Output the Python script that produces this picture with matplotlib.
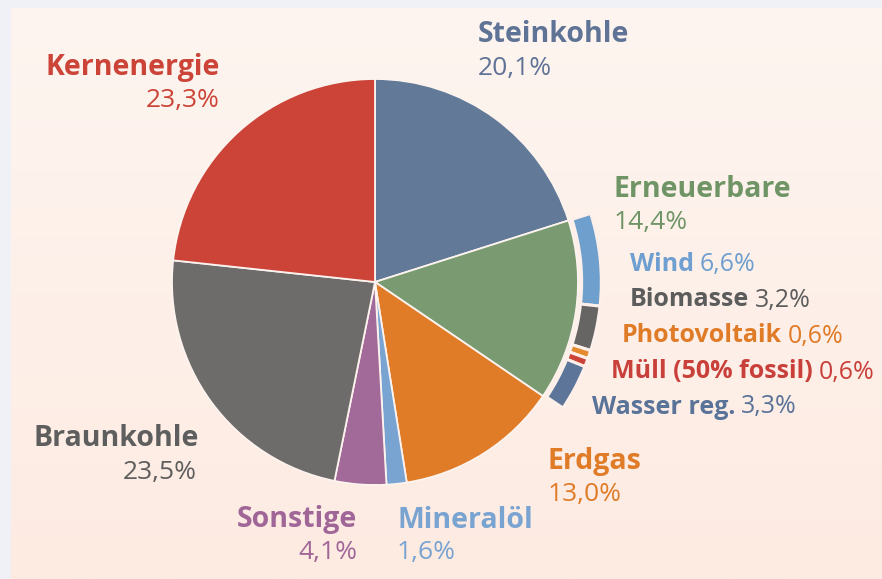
import matplotlib
matplotlib.use("Agg")
import matplotlib.pyplot as plt
import numpy as np

# Anteile an der Stromerzeugung (%), im Uhrzeigersinn ab 12 Uhr
kategorien = ['Steinkohle', 'Erneuerbare', 'Erdgas', 'Mineralöl', 'Sonstige', 'Braunkohle', 'Kernenergie']
anteile = [20.1, 14.4, 13.0, 1.6, 4.1, 23.5, 23.3]
farben = ['#627a98', '#7a9a72', '#e07b28', '#79a3d0', '#a26a98', '#6e6c6a', '#cc4438']
textfarben = ['#5f7396', '#6f9566', '#e07b28', '#79a3d0', '#a06697', '#5e5e5e', '#cc4438']
werte_txt = ['20,1%', '14,4%', '13,0%', '1,6%', '4,1%', '23,5%', '23,3%']

# Aufteilung der Erneuerbaren (äußerer Ring)
ern_namen = ['Wind', 'Biomasse', 'Photovoltaik', 'Müll (50% fossil)', 'Wasser reg.']
ern_anteile = [6.6, 3.2, 0.6, 0.6, 3.3]
ern_farben = ['#6f9fcc', '#666564', '#e68a2e', '#cc4438', '#5d7599']
ern_werte_txt = ['6,6%', '3,2%', '0,6%', '0,6%', '3,3%']

W, H = 882, 579
bg_oben = np.array([254, 245, 240]) / 255
bg_unten = np.array([253, 235, 226]) / 255

fig = plt.figure(figsize=(W / 100, H / 100), dpi=100)
fig.patch.set_facecolor('#eff1f6')

# Hintergrund-Panel mit leichtem Verlauf
bg = fig.add_axes([11 / W, 0, 1 - 11 / W, 1 - 8 / H])
grad = np.linspace(0, 1, 256)[:, None, None]
bild = bg_oben * (1 - grad) + bg_unten * grad
bg.imshow(bild, aspect='auto', extent=[0, 1, 0, 1])
bg.axis('off')

# Kreisdiagramm: Mittelpunkt (375, 282) px, Radius 203 px
cx, cy, r = 375, 282, 203
ax = fig.add_axes([0, 0, 1, 1])
ax.patch.set_alpha(0)

ax.pie(anteile, colors=farben, startangle=90, counterclock=False, radius=1.0,
       wedgeprops=dict(edgecolor='#fdf3ee', linewidth=1.3))

start_ern = 90 - 360 * anteile[0] / 100
ring_werte = ern_anteile + [100 - sum(ern_anteile)]
ring_farben = ern_farben + ['none']
keile, _ = ax.pie(ring_werte, colors=ring_farben, startangle=start_ern, counterclock=False,
                  radius=1.115, wedgeprops=dict(width=0.097, edgecolor='#fdf0ea', linewidth=2.2))
keile[-1].set_edgecolor('none')

ax.set_aspect('auto')
ax.set_xlim(-cx / r, (W - cx) / r)
ax.set_ylim(-(H - cy) / r, cy / r)
ax.axis('off')

schrift = 'Open Sans'


def fx(px):
    return px / W


def fy(py):
    return 1 - py / H


def zeile(px, py, name, wert, farbe, gr=18):
    # fetter Name, dahinter normaler Wert
    t = fig.text(fx(px), fy(py), name, color=farbe, fontsize=gr, fontweight='bold',
                 family=schrift, ha='left', va='center')
    rend = fig.canvas.get_renderer()
    bb = t.get_window_extent(rend)
    fig.text((bb.x1 + 6) / W, fy(py), wert, color=farbe, fontsize=gr,
             family=schrift, ha='left', va='center')


def block(px, py, name, wert, farbe, ha_name, px_wert, ha_wert):
    fig.text(fx(px), fy(py), name, color=farbe, fontsize=20.5, fontweight='bold',
             family=schrift, ha=ha_name, va='center')
    fig.text(fx(px_wert), fy(py + 33), wert, color=farbe, fontsize=19,
             family=schrift, ha=ha_wert, va='center')


# Beschriftungen der Hauptsegmente
pos = {
    'Steinkohle': (478, 35, 'left', 478, 'left'),
    'Erneuerbare': (614, 189, 'left', 614, 'left'),
    'Erdgas': (548, 461, 'left', 548, 'left'),
    'Mineralöl': (397, 520, 'left', 397, 'left'),
    'Sonstige': (357, 520, 'right', 357, 'right'),
    'Braunkohle': (33, 439, 'left', 197, 'right'),
    'Kernenergie': (220, 67, 'right', 220, 'right'),
}
for name, wert, farbe in zip(kategorien, werte_txt, textfarben):
    px, py, ha_n, pxw, ha_w = pos[name]
    block(px, py, name, wert, farbe, ha_n, pxw, ha_w)

# Beschriftungen der Erneuerbaren
ern_pos = [(630, 264), (630, 300), (622, 336), (611, 372), (592, 407)]
ern_textfarben = ['#6f9fd0', '#5c5c5c', '#e07b28', '#c9403a', '#5a7398']
for (px, py), name, wert, farbe in zip(ern_pos, ern_namen, ern_werte_txt, ern_textfarben):
    zeile(px, py, name, wert, farbe)

fig.savefig('out.png', dpi=100, facecolor=fig.get_facecolor())
